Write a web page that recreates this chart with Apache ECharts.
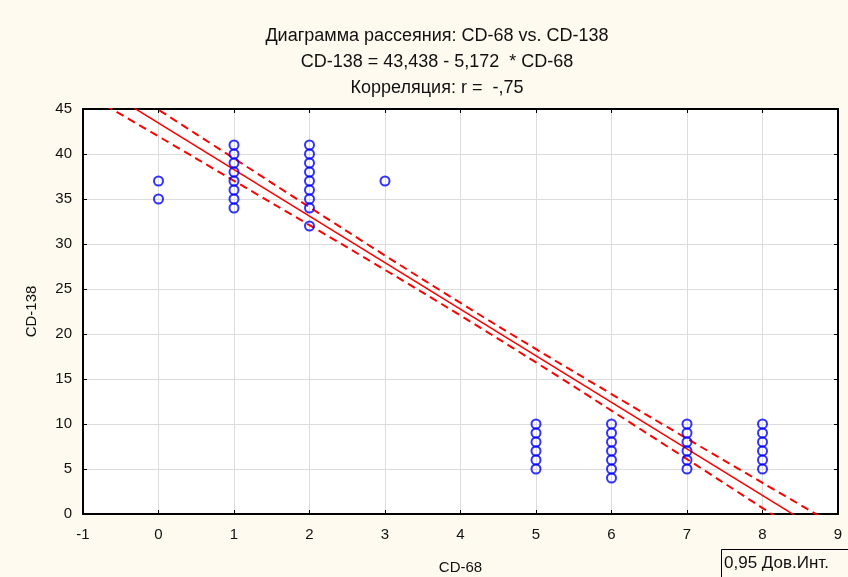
<!DOCTYPE html>
<html>
<head>
<meta charset="utf-8">
<script src="https://cdn.jsdelivr.net/npm/echarts@6/dist/echarts.min.js"></script>
<style>
html,body{margin:0;padding:0;background:#fffaf0;}
#c{width:848px;height:577px;}
</style>
</head>
<body>
<div id="c"></div>
<script>
// Data
var cd68 = [0,0, 1,1,1,1,1,1,1,1, 2,2,2,2,2,2,2,2,2, 3, 5,5,5,5,5,5, 6,6,6,6,6,6,6, 7,7,7,7,7,7, 8,8,8,8,8,8];
var cd138 = [37,35, 41,40,39,38,37,36,35,34, 41,40,39,38,37,36,35,34,32, 37, 10,9,8,7,6,5, 10,9,8,7,6,5,4, 10,9,8,7,6,5, 10,9,8,7,6,5];
// Regression coefficients (from title)
var intercept = 43.438;
var slope = -5.172;
// Confidence band half-width at x positions
var bandX = [-1, 0, 1, 2, 3, 4, 5, 6, 7, 8, 9];
var bandHalf = [1.75, 1.48, 1.24, 1.00, 0.80, 0.70, 0.74, 0.92, 1.14, 1.40, 1.68];
var xTicks = [-1, 0, 1, 2, 3, 4, 5, 6, 7, 8, 9];
var yTicks = [0, 5, 10, 15, 20, 25, 30, 35, 40, 45];

var pts = cd68.map(function (x, i) { return [x, cd138[i]]; });
var fit = function (x) { return intercept + slope * x; };
var regLine = [[xTicks[0], fit(xTicks[0])], [xTicks[xTicks.length - 1], fit(xTicks[xTicks.length - 1])]];
var upper = bandX.map(function (x, i) { return [x, fit(x) + bandHalf[i]]; });
var lower = bandX.map(function (x, i) { return [x, fit(x) - bandHalf[i]]; });

var FONT = 'Liberation Sans, Arial, sans-serif';
var chart = echarts.init(document.getElementById('c'));
var axisCommon = {
  type: 'value',
  axisLine: { show: true, onZero: false, lineStyle: { color: '#000', width: 2 } },
  axisTick: { show: true, inside: true, length: 4, lineStyle: { color: '#000', width: 1 } },
  axisLabel: { color: '#111', fontSize: 15, fontFamily: FONT },
  splitLine: { show: true, lineStyle: { color: '#dcdcdc', width: 1 } }
};
chart.setOption({
  backgroundColor: '#fffaf0',
  animation: false,
  title: {
    text: 'Диаграмма рассеяния: CD-68 vs. CD-138\nCD-138 = 43,438 - 5,172  * CD-68\nКорреляция: r =  -,75',
    left: 432, top: 18, textAlign: 'center',
    textStyle: { fontSize: 18, fontWeight: 'normal', color: '#111', fontFamily: FONT, lineHeight: 26 }
  },
  grid: { left: 83, right: 10, top: 109, bottom: 63, containLabel: false, outerBoundsMode: 'none', show: true, backgroundColor: '#ffffff', borderColor: '#000', borderWidth: 0 },
  xAxis: [
    Object.assign({}, axisCommon, {
      min: xTicks[0], max: xTicks[xTicks.length - 1], interval: 1, position: 'bottom',
      axisLabel: Object.assign({}, axisCommon.axisLabel, { margin: 13 }),
      name: 'CD-68', nameLocation: 'middle', nameGap: 46,
      nameTextStyle: { fontSize: 15, color: '#111', fontFamily: FONT }
    }),
    Object.assign({}, axisCommon, {
      min: xTicks[0], max: xTicks[xTicks.length - 1], interval: 1, position: 'top',
      axisLabel: { show: false }, splitLine: { show: false }
    })
  ],
  yAxis: [
    Object.assign({}, axisCommon, {
      min: yTicks[0], max: yTicks[yTicks.length - 1], interval: 5, position: 'left',
      axisLabel: Object.assign({}, axisCommon.axisLabel, { margin: 11 }),
      name: 'CD-138', nameLocation: 'middle', nameGap: 44, nameRotate: 90,
      nameTextStyle: { fontSize: 15, color: '#111', fontFamily: FONT }
    }),
    Object.assign({}, axisCommon, {
      min: yTicks[0], max: yTicks[yTicks.length - 1], interval: 5, position: 'right',
      axisLabel: { show: false }, splitLine: { show: false }
    })
  ],
  series: [
    {
      type: 'line', data: upper, smooth: 0.4, symbol: 'none', clip: true, z: 3,
      lineStyle: { color: '#ff0000', width: 2, type: [8, 5] }
    },
    {
      type: 'line', data: lower, smooth: 0.4, symbol: 'none', clip: true, z: 3,
      lineStyle: { color: '#ff0000', width: 2, type: [8, 5] }
    },
    {
      type: 'line', data: regLine, symbol: 'none', clip: true, z: 3,
      lineStyle: { color: '#ff0000', width: 1.5 }
    },
    {
      type: 'scatter', data: pts, symbol: 'circle', symbolSize: 9, z: 4,
      itemStyle: { color: 'rgba(0,0,0,0)', borderColor: '#0000ff', borderWidth: 2 }
    }
  ],
  graphic: [
    { type: 'rect', left: 721, top: 549, shape: { width: 128, height: 29 }, style: { fill: '#fffaf0', stroke: '#000', lineWidth: 1 } },
    { type: 'text', left: 724, top: 555, style: { text: '0,95 Дов.Инт.', fontSize: 17, fill: '#111', fontFamily: FONT } }
  ]
});
</script>
</body>
</html>
